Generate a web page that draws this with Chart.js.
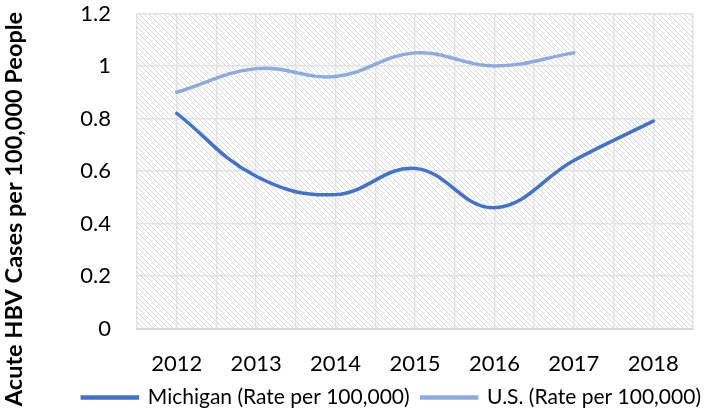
<!DOCTYPE html>
<html lang="en">
<head>
  <meta charset="UTF-8" />
  <title>Acute HBV Cases</title>
  <script src="https://cdn.jsdelivr.net/npm/chart.js"></script>
  <style>
    html, body { margin: 0; padding: 0; background: #fff; }
    #box { width: 715px; height: 418px; }
  </style>
</head>
<body>
  <div id="box"><canvas id="myChart"></canvas></div>

<script>
  // valores
  var anos = ['2012', '2013', '2014', '2015', '2016', '2017', '2018'];
  var michigan = [0.82, 0.58, 0.51, 0.61, 0.46, 0.64, 0.79];
  var us = [0.90, 0.99, 0.96, 1.05, 1.00, 1.05];
  var tituloY = 'Acute HBV Cases per 100,000 People';

  var fonte = "Lato, 'Open Sans', sans-serif";

  // fundo hachurado da area do grafico
  function hachura(ctx) {
    var tile = document.createElement('canvas');
    tile.width = 5;
    tile.height = 5;
    var t = tile.getContext('2d');
    t.fillStyle = '#ffffff';
    t.fillRect(0, 0, 5, 5);
    t.fillStyle = '#d8d8d8';
    for (let i = 0; i < 5; i++) {
      t.fillRect(i, i, 1, 1);
    }
    return ctx.createPattern(tile, 'repeat');
  }

  const fundo = {
    id: 'fundo',
    beforeDraw(chart) {
      const a = chart.chartArea;
      const ctx = chart.ctx;
      ctx.save();
      ctx.fillStyle = hachura(ctx);
      ctx.fillRect(a.left, a.top, a.right - a.left, a.bottom - a.top);
      ctx.restore();
    },
    // titulo do eixo y, centrado na altura toda do canvas
    afterDraw(chart) {
      const ctx = chart.ctx;
      ctx.save();
      ctx.translate(14, chart.height / 2);
      ctx.rotate(-Math.PI / 2);
      ctx.fillStyle = '#000';
      ctx.font = 'bold 23.5px ' + fonte;
      ctx.textAlign = 'center';
      ctx.textBaseline = 'middle';
      ctx.fillText(tituloY, 0, 0);
      ctx.restore();
    }
  };

  function pontos(lista) {
    var d = [];
    for (let i = 0; i < lista.length; i++) {
      d.push({ x: i, y: lista[i] });
    }
    return d;
  }

  const data = {
    datasets: [{
      label: 'Michigan (Rate per 100,000)',
      data: pontos(michigan),
      borderColor: '#4472C4',
      backgroundColor: '#4472C4',
      borderWidth: 3.5,
      tension: 0.4,
      pointRadius: 0,
      borderCapStyle: 'round'
    }, {
      label: 'U.S. (Rate per 100,000)',
      data: pontos(us),
      borderColor: '#8FAADC',
      backgroundColor: '#8FAADC',
      borderWidth: 3.5,
      tension: 0.4,
      pointRadius: 0,
      borderCapStyle: 'round'
    }]
  };

  const config = {
    type: 'line',
    data: data,
    plugins: [fundo],
    options: {
      responsive: true,
      maintainAspectRatio: false,
      animation: false,
      layout: { padding: { top: 0, right: 2, bottom: 0, left: 26 } },
      plugins: {
        legend: {
          position: 'bottom',
          align: 'end',
          labels: {
            color: '#000',
            font: { family: fonte, size: 21 },
            boxWidth: 55,
            boxHeight: 1,
            padding: 12
          }
        },
        tooltip: { enabled: false }
      },
      scales: {
        x: {
          type: 'linear',
          min: -0.5,
          max: 6.5,
          afterBuildTicks(s) {
            s.ticks = [];
            for (let v = -0.5; v <= 6.5; v += 0.5) s.ticks.push({ value: v });
          },
          afterFit(s) { s.height = 46.5; },
          ticks: {
            autoSkip: false,
            maxRotation: 0,
            padding: 22,
            color: '#000',
            font: { family: fonte, size: 22 },
            callback: function (v) {
              return Number.isInteger(v) ? anos[v] : '';
            }
          },
          grid: { color: '#e2e2e2', lineWidth: 1.5, drawTicks: false },
          border: { color: '#d6d6d6', width: 2 }
        },
        y: {
          min: 0,
          max: 1.2,
          afterFit(s) {
            s.width = 111;
            s.paddingTop = 13.5;
            s.paddingBottom = 0;
          },
          ticks: {
            stepSize: 0.2,
            padding: 26,
            color: '#000',
            font: { family: fonte, size: 22 },
            callback: function (v) {
              return String(Math.round(v * 10) / 10);
            }
          },
          grid: { color: '#e2e2e2', lineWidth: 1.5, drawTicks: false },
          border: { display: false }
        }
      }
    }
  };

  const myChart = new Chart(document.getElementById('myChart'), config);
</script>
</body>
</html>
